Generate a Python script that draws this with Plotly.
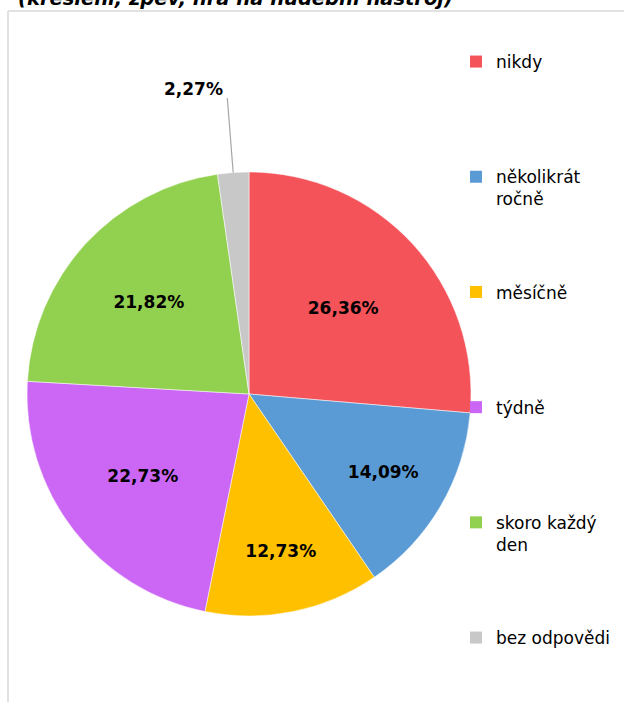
import math
import plotly.graph_objects as go

# data
labels = ["nikdy", "několikrát ročně", "měsíčně", "týdně", "skoro každý den", "bez odpovědi"]
legend_names = ["nikdy", "několikrát<br>ročně", "měsíčně", "týdně", "skoro každý<br>den", "bez odpovědi"]
values = [26.36, 14.09, 12.73, 22.73, 21.82, 2.27]
colors = ["#F5535A", "#5B9BD5", "#FFC000", "#CB66F5", "#92D050", "#C8C8C8"]
title_text = "(kreslení, zpěv, hra na hudební nástroj)"

W, H = 624, 702
FONT = "DejaVu Sans"

# pie placement in pixels (centre and radius)
cx, cy, rad = 249, 394, 222
dom_x = [(cx - rad) / W, (cx + rad) / W]
dom_y = [(H - cy - rad) / H, (H - cy + rad) / H]

def fmt(v):
    return f"{v:.2f}%".replace(".", ",")

# small slice gets its label outside with a leader line
texts = [fmt(v) if v > 5 else "" for v in values]

fig = go.Figure()
fig.add_trace(go.Pie(
    labels=labels,
    values=values,
    text=texts,
    textinfo="text",
    textposition="inside",
    insidetextorientation="horizontal",
    textfont=dict(family=FONT, size=17, color="black", weight="bold"),
    marker=dict(colors=colors, line=dict(color="rgba(255,255,255,0.5)", width=1)),
    sort=False,
    direction="clockwise",
    showlegend=False,
    hoverinfo="label+percent",
    domain=dict(x=dom_x, y=dom_y),
))

# legend entries (one group each so they can be spaced apart)
for i, name in enumerate(legend_names):
    if "<br>" not in name:
        name = name + "<br>\u00a0"
    fig.add_trace(go.Scatter(
        x=[None], y=[None], mode="markers", name=name,
        legendgroup=f"g{i}",
        marker=dict(symbol="square", size=12, color=colors[i]),
    ))

# leader line + label for the small slice
total = sum(values)
start = sum(values[:-1])
mid = (start + values[-1] / 2) / total * 2 * math.pi
px = cx + rad * math.sin(mid)
py = cy - rad * math.cos(mid)
fig.add_annotation(
    x=px / W, y=1 - py / H, xref="paper", yref="paper",
    text="", showarrow=True, arrowhead=0, arrowwidth=1.2, arrowcolor="#A6A6A6",
    ax=-6, ay=-76, standoff=0,
)
fig.add_annotation(
    x=(px - 6) / W, y=1 - (py - 76) / H, xref="paper", yref="paper",
    text=fmt(values[-1]), showarrow=False, xanchor="right", yanchor="bottom",
    font=dict(family=FONT, size=17, color="black", weight="bold"),
    xshift=-2, yshift=-4,
)

# title, cut off at the top edge like in the source
fig.add_annotation(
    x=16 / W, y=1 - 12 / H, xref="paper", yref="paper",
    text=title_text, showarrow=False, xanchor="left", yanchor="bottom",
    font=dict(family=FONT, size=19.5, color="black", weight="bold", style="italic"),
)

# chart area frame (left and top edges visible)
fig.add_shape(type="line", xref="paper", yref="paper",
              x0=8 / W, x1=1, y0=1 - 11 / H, y1=1 - 11 / H,
              line=dict(color="#D9D9D9", width=1.5))
fig.add_shape(type="line", xref="paper", yref="paper",
              x0=8 / W, x1=8 / W, y0=0, y1=1 - 11 / H,
              line=dict(color="#D9D9D9", width=1.5))

fig.update_layout(
    width=W, height=H,
    margin=dict(l=0, r=0, t=0, b=0),
    paper_bgcolor="white", plot_bgcolor="white",
    xaxis=dict(visible=False), yaxis=dict(visible=False),
    legend=dict(
        x=456 / W, y=1 - 44 / H, xanchor="left", yanchor="top",
        font=dict(family=FONT, size=17, color="black"),
        tracegroupgap=68, valign="top", bgcolor="rgba(0,0,0,0)",
    ),
)

fig.write_html("out.html", config={"displayModeBar": False},
               post_script="document.body.style.margin='0';document.body.style.overflow='hidden';")
